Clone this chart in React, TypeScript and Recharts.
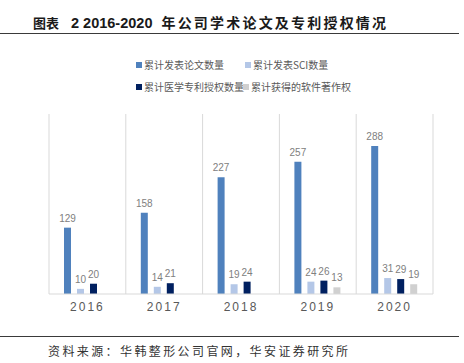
import { BarChart, Bar, XAxis, YAxis, CartesianGrid, LabelList } from 'recharts';

const years = ['2016', '2017', '2018', '2019', '2020'];
const papers = [129, 158, 227, 257, 288];
const sciPapers = [10, 14, 19, 24, 31];
const patents = [20, 21, 24, 26, 29];
const softwareRights = [null, null, null, 13, 19];

const seriesNames = ['累计发表论文数量', '累计发表SCI数量', '累计医学专利授权数量', '累计获得的软件著作权'];
const seriesColors = ['#4F81BD', '#B4C7E7', '#002060', '#D0D0D0'];

const data = years.map((year, i) => ({
  year,
  papers: papers[i],
  sci: sciPapers[i],
  patents: patents[i],
  software: softwareRights[i],
}));

const seriesKeys = ['papers', 'sci', 'patents', 'software'];

const cjk = '"Noto Sans CJK SC", "Noto Sans", sans-serif';
const latin = '"Liberation Sans", Arial, sans-serif';

const YearTick = (props: any) => {
  const { x, y, payload } = props;
  return (
    <g transform={`translate(${x},${y})`}>
      <text
        dy={9}
        textAnchor='middle'
        fill='#595959'
        fontSize={12}
        fontFamily={latin}
        letterSpacing={2}
      >
        {payload.value}
      </text>
    </g>
  );
};

function LegendItem({ name, color, left, top }: { name: string; color: string; left: number; top: number }) {
  return (
    <div style={{ position: 'absolute', left, top, display: 'flex', alignItems: 'center', height: 12 }}>
      <span style={{ width: 6, height: 6, background: color, marginRight: 2 }} />
      <span style={{ fontSize: 10, color: '#595959', fontFamily: cjk, lineHeight: '12px', whiteSpace: 'nowrap' }}>
        {name}
      </span>
    </div>
  );
}

function App() {
  return (
    <div style={{ position: 'absolute', left: 0, top: 0, width: 464, height: 363, background: '#fff', overflow: 'hidden' }}>
      <div style={{ position: 'absolute', left: 33, top: 15, height: 15, lineHeight: '15px', whiteSpace: 'nowrap', color: '#1a1a1a' }}>
        <span style={{ fontFamily: cjk, fontWeight: 700, fontSize: 13 }}>图表</span>
        <span style={{ fontFamily: latin, fontWeight: 700, fontSize: 14.5, marginLeft: 12 }}>2 2016-2020</span>
        <span style={{ fontFamily: cjk, fontWeight: 700, fontSize: 14, letterSpacing: 2.2, marginLeft: 9 }}>
          年公司学术论文及专利授权情况
        </span>
      </div>
      <div style={{ position: 'absolute', left: 0, top: 33, width: 459, height: 1, background: '#3a3a3a' }} />

      <LegendItem name={seriesNames[0]} color={seriesColors[0]} left={136} top={59} />
      <LegendItem name={seriesNames[1]} color={seriesColors[1]} left={245} top={59} />
      <LegendItem name={seriesNames[2]} color={seriesColors[2]} left={136} top={81} />
      <LegendItem name={seriesNames[3]} color={seriesColors[3]} left={243} top={81} />

      <div style={{ position: 'absolute', left: 0, top: 0 }}>
        <BarChart
          width={464}
          height={363}
          data={data}
          margin={{ top: 114, right: 31, bottom: 39, left: 49 }}
          barSize={7}
          barGap={6}
        >
          <CartesianGrid
            horizontal={false}
            stroke='#d9d9d9'
            verticalCoordinatesGenerator={({ offset }: any) =>
              years.map((_, i) => offset.left + (i * offset.width) / years.length).concat(offset.left + offset.width)
            }
          />
          <XAxis
            dataKey='year'
            height={30}
            axisLine={{ stroke: '#d9d9d9' }}
            tickLine={false}
            tick={<YearTick />}
          />
          <YAxis hide domain={[0, 350]} />
          {seriesKeys.map((key, i) => (
            <Bar key={key} dataKey={key} name={seriesNames[i]} fill={seriesColors[i]} isAnimationActive={false}>
              <LabelList
                dataKey={key}
                position='top'
                offset={6}
                fill='#808080'
                fontSize={10}
                fontFamily={latin}
              />
            </Bar>
          ))}
        </BarChart>
      </div>

      <div style={{ position: 'absolute', left: 0, top: 336, width: 459, height: 1, background: '#3a3a3a' }} />
      <div
        style={{
          position: 'absolute',
          left: 48,
          top: 344,
          lineHeight: '13px',
          fontSize: 12,
          letterSpacing: 2.4,
          fontFamily: cjk,
          color: '#333',
          whiteSpace: 'nowrap',
        }}
      >
        资料来源：华韩整形公司官网，华安证券研究所
      </div>
    </div>
  );
}

export default App;
